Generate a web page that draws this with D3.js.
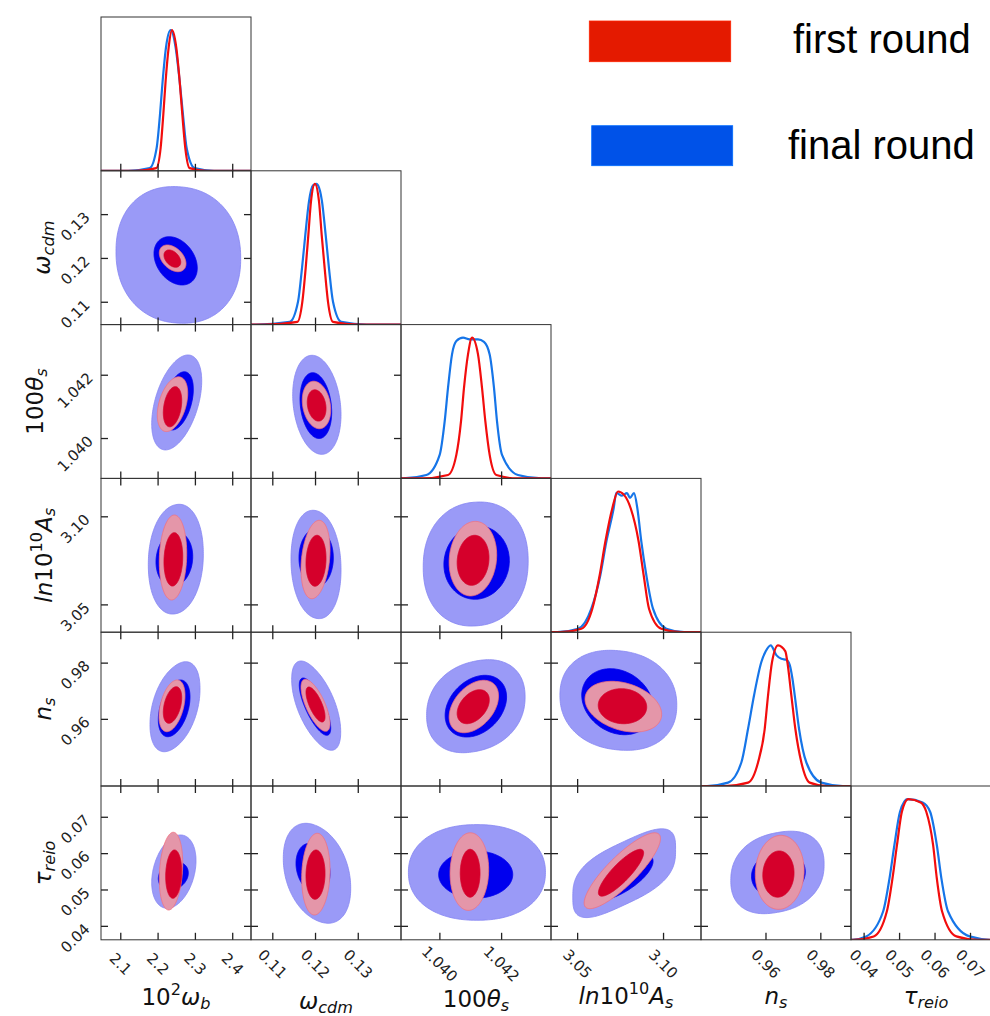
<!DOCTYPE html>
<html>
<head>
<meta charset="utf-8">
<script src="https://d3js.org/d3.v7.min.js"></script>
<style>
  body { margin: 0; background: white; }
  svg { display: block; }
</style>
</head>
<body>
<svg id="corner" width="990" height="1016"></svg>
<script>
// parameter ranges (same for x and y), ticks and labels
const domains = [[2.047, 2.449], [0.1049, 0.1400], [1.03874, 1.0436], [3.0345, 3.1218], [0.9363, 0.991], [0.0363, 0.0786]];
const tickValues = [[2.1, 2.2, 2.3, 2.4], [0.11, 0.12, 0.13], [1.040, 1.042], [3.05, 3.10], [0.96, 0.98], [0.04, 0.05, 0.06, 0.07]];
const tickLabels = [["2.1", "2.2", "2.3", "2.4"], ["0.11", "0.12", "0.13"], ["1.040", "1.042"], ["3.05", "3.10"], ["0.96", "0.98"], ["0.04", "0.05", "0.06", "0.07"]];
// label pieces: n normal, i italic, sub / sup
const axisLabels = [
  [["10", "n"], ["2", "sup"], ["ω", "i"], ["b", "sub"]],
  [["ω", "i"], ["cdm", "sub"]],
  [["100", "n"], ["θ", "i"], ["s", "sub"]],
  [["ln", "i"], ["10", "n"], ["10", "sup"], ["A", "i"], ["s", "sub"]],
  [["n", "i"], ["s", "sub"]],
  [["τ", "i"], ["reio", "sub"]]
];
const legendNames = ["first round", "final round"];

// 1D posteriors, [value, density / peak]
const first1D = [
  [[2.14, 0], [2.1952, 0.019], [2.2068, 0.162], [2.2140, 0.40], [2.2202, 0.638], [2.2283, 0.876], [2.2372, 1], [2.2488, 0.876], [2.2578, 0.638], [2.2649, 0.40], [2.2729, 0.162], [2.2846, 0.019], [2.33, 0]],
  [[0.108, 0], [0.11574, 0.019], [0.11691, 0.162], [0.11769, 0.40], [0.11832, 0.638], [0.11894, 0.876], [0.11985, 1], [0.12081, 0.876], [0.12144, 0.638], [0.12214, 0.40], [0.12292, 0.162], [0.12409, 0.019], [0.13, 0]],
  [[1.0394, 0], [1.040263, 0.024], [1.040533, 0.167], [1.040684, 0.405], [1.040781, 0.643], [1.040911, 0.881], [1.041041, 1], [1.041235, 0.881], [1.041365, 0.643], [1.041473, 0.405], [1.041613, 0.167], [1.041829, 0.024], [1.0425, 0]],
  [[3.04, 0], [3.052154, 0.024], [3.058556, 0.167], [3.062824, 0.405], [3.066122, 0.643], [3.070196, 0.881], [3.073494, 1], [3.076986, 0.976], [3.080866, 0.881], [3.085522, 0.643], [3.088432, 0.405], [3.091536, 0.167], [3.098714, 0.024], [3.11, 0]],
  [[0.945, 0], [0.953446, 0.024], [0.957094, 0.167], [0.959526, 0.405], [0.960742, 0.643], [0.962201, 0.881], [0.96439, 1], [0.967065, 0.957], [0.967795, 0.881], [0.969254, 0.643], [0.970713, 0.405], [0.972902, 0.167], [0.975942, 0.024], [0.982, 0]],
  [[0.037, 0], [0.0427, 0.024], [0.0464, 0.201], [0.048, 0.437], [0.04927, 0.674], [0.05065, 0.91], [0.05246, 1], [0.05596, 0.976], [0.05753, 0.91], [0.05945, 0.674], [0.0605, 0.437], [0.06199, 0.201], [0.06602, 0.024], [0.072, 0]]
];
const final1D = [
  [[2.12, 0], [2.1774, 0.019], [2.1961, 0.162], [2.2051, 0.40], [2.2122, 0.638], [2.2211, 0.876], [2.2336, 1], [2.2470, 0.876], [2.2578, 0.638], [2.2667, 0.40], [2.2765, 0.162], [2.2979, 0.019], [2.35, 0]],
  [[0.106, 0], [0.11395, 0.019], [0.1159, 0.162], [0.11683, 0.40], [0.11761, 0.638], [0.11847, 0.876], [0.11941, 0.99], [0.12019, 1], [0.12058, 0.99], [0.12151, 0.876], [0.12237, 0.638], [0.12315, 0.40], [0.12409, 0.162], [0.12604, 0.019], [0.132, 0]],
  [[1.0388, 0], [1.039561, 0.024], [1.039993, 0.167], [1.040155, 0.405], [1.040263, 0.643], [1.040393, 0.881], [1.040533, 0.976], [1.040749, 1], [1.040965, 0.988], [1.041235, 0.988], [1.041429, 0.971], [1.041613, 0.881], [1.041753, 0.643], [1.041851, 0.405], [1.042013, 0.167], [1.042531, 0.024], [1.0433, 0]],
  [[3.038, 0], [3.050214, 0.024], [3.057974, 0.167], [3.063212, 0.405], [3.066704, 0.643], [3.070972, 0.881], [3.072524, 0.99], [3.075822, 0.97], [3.078732, 0.988], [3.080478, 0.955], [3.082806, 0.988], [3.084746, 0.881], [3.087074, 0.643], [3.089984, 0.405], [3.093864, 0.167], [3.101624, 0.024], [3.112, 0]],
  [[0.9385, 0], [0.94615, 0.024], [0.95101, 0.167], [0.953446, 0.405], [0.955635, 0.643], [0.95831, 0.881], [0.959891, 0.957], [0.961715, 1], [0.963782, 0.93], [0.965606, 0.904], [0.96743, 0.897], [0.968646, 0.861], [0.969619, 0.766], [0.97047, 0.646], [0.972051, 0.407], [0.974726, 0.167], [0.980198, 0.024], [0.988, 0]],
  [[0.0365, 0], [0.04059, 0.024], [0.04535, 0.201], [0.04716, 0.437], [0.04854, 0.674], [0.05012, 0.91], [0.05223, 1], [0.05649, 0.976], [0.05861, 0.91], [0.0605, 0.674], [0.06179, 0.437], [0.06368, 0.201], [0.06972, 0.024], [0.076, 0]]
];

// 2D panels as [row, col]; contours as [xlo, xhi, ylo, yhi, correlation, squareness]
const pairs = [[1, 0], [2, 0], [3, 0], [4, 0], [5, 0], [2, 1], [3, 1], [4, 1], [5, 1], [3, 2], [4, 2], [5, 2], [4, 3], [5, 3], [5, 4]];
const finalOuter = [
  [2.0872, 2.4214, 0.1052, 0.1364, -0.05, 2.2],
  [2.1829, 2.3169, 1.03964, 1.04264, 0.45, 2],
  [2.1738, 2.3212, 3.0448, 3.1071, 0.1, 2.1],
  [2.1783, 2.3123, 0.94849, 0.98051, 0.4, 2.1],
  [2.1829, 2.3016, 0.04497, 0.06513, 0.3, 2],
  [0.11466, 0.12596, 1.0395, 1.04263, -0.2, 2],
  [0.11426, 0.12596, 3.0422, 3.1037, -0.1, 2.1],
  [0.11442, 0.12589, 0.949, 0.98076, -0.6, 2.1],
  [0.11246, 0.12823, 0.04085, 0.06834, -0.3, 2.1],
  [1.03946, 1.04286, 3.038, 3.1084, 0.05, 2.2],
  [1.03957, 1.04276, 0.94814, 0.98122, 0.2, 2.2],
  [1.03898, 1.04342, 0.04167, 0.06798, 0.0, 2.2],
  [3.0397, 3.1077, 0.94899, 0.98456, -0.1, 2.2],
  [3.0472, 3.1070, 0.04241, 0.06683, 0.6, 3],
  [0.94717, 0.98119, 0.04348, 0.06617, 0.2, 2.3]
];
const finalInner = [
  [2.189, 2.305, 0.11394, 0.12496, -0.3, 2],
  [2.214, 2.2944, 1.04027, 1.04211, 0.4, 2],
  [2.1944, 2.2928, 3.0603, 3.0915, 0.1, 2],
  [2.2006, 2.2855, 0.95383, 0.9740, 0.4, 2],
  [2.2006, 2.281, 0.05, 0.05778, 0.2, 2],
  [0.11637, 0.12378, 1.04, 1.04208, -0.2, 2],
  [0.11613, 0.12416, 3.0602, 3.0932, 0, 2],
  [0.1162, 0.12355, 0.95433, 0.97471, -0.75, 2],
  [0.11543, 0.12339, 0.04909, 0.06284, -0.2, 2],
  [1.04013, 1.04225, 3.0532, 3.0948, 0.05, 2],
  [1.04017, 1.04216, 0.95372, 0.97567, 0.3, 2],
  [1.03996, 1.04236, 0.04775, 0.06073, 0, 2],
  [3.0524, 3.094, 0.95454, 0.97802, -0.2, 2],
  [3.0571, 3.0939, 0.04711, 0.05982, 0.7, 2],
  [0.95472, 0.97434, 0.04802, 0.06073, 0.1, 2]
];
const firstOuter = [
  [2.2032, 2.2748, 0.11697, 0.12307, -0.4, 2],
  [2.1979, 2.2794, 1.04022, 1.04195, 0.4, 2],
  [2.2032, 2.2767, 3.0528, 3.1010, 0.1, 2],
  [2.2024, 2.2721, 0.95561, 0.9740, 0.4, 2],
  [2.2032, 2.266, 0.0445, 0.06587, 0.2, 2],
  [0.1169, 0.12355, 1.04031, 1.04181, -0.2, 2],
  [0.1166, 0.12339, 3.0535, 3.098, 0.25, 2],
  [0.1166, 0.12339, 0.95575, 0.97425, -0.7, 2],
  [0.11676, 0.12339, 0.04313, 0.06559, 0.1, 2],
  [1.0403, 1.04184, 3.0551, 3.0974, 0.1, 2],
  [1.0403, 1.0419, 0.95525, 0.97389, 0.4, 2],
  [1.04033, 1.04158, 0.04439, 0.06573, 0.05, 2],
  [3.0543, 3.0989, 0.95549, 0.97353, -0.3, 2],
  [3.0538, 3.0982, 0.04486, 0.06573, 0.85, 2],
  [0.9561, 0.9739, 0.04467, 0.06502, 0.05, 2]
];
const firstInner = [
  [2.2158, 2.2606, 0.11798, 0.12193, -0.4, 2],
  [2.214, 2.2633, 1.04037, 1.04164, 0.3, 2],
  [2.2158, 2.266, 3.0607, 3.091, 0.1, 2],
  [2.214, 2.2633, 0.9586, 0.97161, 0.4, 2],
  [2.2204, 2.2633, 0.04772, 0.061, 0.1, 2],
  [0.11807, 0.12245, 1.04055, 1.04154, -0.2, 2],
  [0.11777, 0.12245, 3.0606, 3.0895, 0.1, 2],
  [0.11777, 0.12222, 0.95906, 0.97151, -0.7, 2],
  [0.11777, 0.12222, 0.04744, 0.061, 0.05, 2],
  [1.04056, 1.04159, 3.0611, 3.0895, 0.1, 2],
  [1.04056, 1.0416, 0.95846, 0.97055, 0.4, 2],
  [1.04066, 1.0413, 0.04802, 0.06119, 0, 2],
  [3.062, 3.0902, 0.95845, 0.9709, -0.05, 2],
  [3.0621, 3.0884, 0.0483, 0.06119, 0.85, 2],
  [0.95884, 0.97022, 0.04802, 0.06073, 0.05, 2]
];

const svg = d3.select("#corner");
const gridLeft = 101, gridTop = 17, pw = 150, ph = 153.8, n = 6;
const tickLen = 7;

const xScale = j => d3.scaleLinear().domain(domains[j]).range([gridLeft + j * pw, gridLeft + (j + 1) * pw]);
const yScale = i => d3.scaleLinear().domain(domains[i]).range([gridTop + (i + 1) * ph, gridTop + i * ph]);
const dScale = i => d3.scaleLinear().domain([0, 1.093]).range([gridTop + (i + 1) * ph, gridTop + i * ph]);

// clip paths
const defs = svg.append("defs");
for (let i = 0; i < n; i++) {
  for (let j = 0; j <= i; j++) {
    defs.append("clipPath").attr("id", `clip${i}${j}`)
      .append("rect")
      .attr("x", gridLeft + j * pw).attr("y", gridTop + i * ph)
      .attr("width", pw).attr("height", ph);
  }
}

// contour outline in data units from box + correlation
function contourPoints(c) {
  const [xlo, xhi, ylo, yhi, r, sq] = c;
  const cx = (xlo + xhi) / 2, cy = (ylo + yhi) / 2;
  const ax = (xhi - xlo) / 2, ay = (yhi - ylo) / 2;
  const s = Math.sqrt(1 - r * r);
  const raw = d3.range(0, 2 * Math.PI, Math.PI / 90).map(t => {
    const ct = Math.cos(t), st = Math.sin(t);
    const u = Math.sign(ct) * Math.pow(Math.abs(ct), 2 / sq);
    const v = Math.sign(st) * Math.pow(Math.abs(st), 2 / sq);
    return [u, r * u + s * v];
  });
  const m = d3.max(raw, p => Math.abs(p[1]));
  return raw.map(p => [cx + ax * p[0], cy + ay * p[1] / m]);
}

const styles = [
  { data: finalOuter, fill: "#9a9af7", stroke: "#8585f2" },
  { data: finalInner, fill: "#0000ee", stroke: "#0000ee" },
  { data: firstOuter, fill: "#e496a9", stroke: "#f2707e" },
  { data: firstInner, fill: "#d5002b", stroke: "#d5002b" }
];

pairs.forEach(([i, j], k) => {
  const x = xScale(j), y = yScale(i);
  const line = d3.line().x(d => x(d[0])).y(d => y(d[1])).curve(d3.curveLinearClosed);
  const g = svg.append("g").attr("clip-path", `url(#clip${i}${j})`);
  styles.forEach(st => {
    g.append("path")
      .attr("d", line(contourPoints(st.data[k])))
      .attr("fill", st.fill)
      .attr("stroke", st.stroke)
      .attr("stroke-width", 0.8);
  });
});

// diagonal 1D curves
for (let i = 0; i < n; i++) {
  const x = xScale(i), y = dScale(i);
  const line = d3.line().x(d => x(d[0])).y(d => y(d[1])).curve(d3.curveMonotoneX);
  const g = svg.append("g").attr("clip-path", `url(#clip${i}${i})`);
  const ends = pts => [[domains[i][0], 0]].concat(pts, [[domains[i][1], 0]]);
  g.append("path").attr("d", line(ends(final1D[i])))
    .attr("fill", "none").attr("stroke", "#1675e8").attr("stroke-width", 2.2);
  g.append("path").attr("d", line(ends(first1D[i])))
    .attr("fill", "none").attr("stroke", "#f20d0d").attr("stroke-width", 2.2);
}

// frames and ticks
const frames = svg.append("g");
for (let i = 0; i < n; i++) {
  for (let j = 0; j <= i; j++) {
    const x0 = gridLeft + j * pw, y0 = gridTop + i * ph;
    frames.append("rect")
      .attr("x", x0).attr("y", y0).attr("width", pw).attr("height", ph)
      .attr("fill", "none").attr("stroke", "#333").attr("stroke-width", 1);
    const x = xScale(j);
    tickValues[j].forEach(v => {
      frames.append("line")
        .attr("x1", x(v)).attr("x2", x(v))
        .attr("y1", y0 + ph).attr("y2", y0 + ph - tickLen)
        .attr("stroke", "#222").attr("stroke-width", 1.3);
      if (i !== j) {
        frames.append("line")
          .attr("x1", x(v)).attr("x2", x(v))
          .attr("y1", y0).attr("y2", y0 + tickLen)
          .attr("stroke", "#222").attr("stroke-width", 1.3);
      }
    });
    if (i !== j) {
      const y = yScale(i);
      tickValues[i].forEach(v => {
        frames.append("line")
          .attr("x1", x0).attr("x2", x0 + tickLen)
          .attr("y1", y(v)).attr("y2", y(v))
          .attr("stroke", "#222").attr("stroke-width", 1.3);
        frames.append("line")
          .attr("x1", x0 + pw).attr("x2", x0 + pw - tickLen)
          .attr("y1", y(v)).attr("y2", y(v))
          .attr("stroke", "#222").attr("stroke-width", 1.3);
      });
    }
  }
}

// tick labels, rotated 45 degrees, placed by the centre of their box
const tickFont = 15, capH = 0.73 * tickFont;
const labelsG = svg.append("g")
  .style("font-family", "'DejaVu Sans', sans-serif")
  .style("font-size", tickFont + "px")
  .attr("fill", "#222");
const gridBottom = gridTop + n * ph;
for (let j = 0; j < n; j++) {
  const x = xScale(j);
  tickValues[j].forEach((v, k) => {
    const t = labelsG.append("text").text(tickLabels[j][k]);
    const w = t.node().getComputedTextLength();
    const px = x(v) - 0.354 * (w + capH);
    const py = gridBottom + 24 - 0.354 * (w - capH);
    t.attr("transform", `translate(${px},${py}) rotate(45)`);
  });
}
for (let i = 1; i < n; i++) {
  const y = yScale(i);
  tickValues[i].forEach((v, k) => {
    const t = labelsG.append("text").text(tickLabels[i][k]).attr("text-anchor", "end");
    const w = t.node().getComputedTextLength();
    const px = 75 + 0.354 * (w + capH);
    const py = y(v) - 4 + 0.707 * capH;
    t.attr("transform", `translate(${px},${py}) rotate(-45)`);
  });
}

// axis labels with sub/superscripts
const labelFont = 23;
function mathLabel(g, pieces) {
  const t = g.append("text");
  let shift = 0;
  pieces.forEach(([s, kind]) => {
    let target = 0, size = null, italic = false;
    if (kind === "i") italic = true;
    if (kind === "sub") { target = 0.16; size = "70%"; italic = true; }
    if (kind === "sup") { target = -0.42; size = "70%"; }
    const sp = t.append("tspan").text(s)
      .attr("dy", ((target - shift) * labelFont).toFixed(2));
    shift = target;
    if (size) sp.style("font-size", size);
    if (italic) sp.style("font-style", "italic");
  });
  return t;
}
const axisG = svg.append("g")
  .style("font-family", "'DejaVu Sans', sans-serif")
  .style("font-size", labelFont + "px")
  .attr("fill", "#111");
const xLabelBase = [1005, 1009, 1007, 1004, 1004, 1004];
for (let j = 0; j < n; j++) {
  mathLabel(axisG, axisLabels[j])
    .attr("text-anchor", "middle")
    .attr("x", gridLeft + (j + 0.5) * pw)
    .attr("y", xLabelBase[j]);
}
const yLabelBase = [0, 50, 43, 51.5, 51, 51];
for (let i = 1; i < n; i++) {
  const cy = gridTop + (i + 0.5) * ph;
  mathLabel(axisG, axisLabels[i])
    .attr("text-anchor", "middle")
    .attr("transform", `translate(${yLabelBase[i]},${cy}) rotate(-90)`);
}

// legend
const legendColors = ["#e41a00", "#0052e8"];
const legendBoxes = [[589.3, 21, 141.4, 40.7], [591.7, 125.7, 141, 40]];
const legendText = [[793, 52.7], [788, 159]];
legendNames.forEach((name, k) => {
  const [bx, by, bw, bh] = legendBoxes[k];
  svg.append("rect")
    .attr("x", bx).attr("y", by).attr("width", bw).attr("height", bh)
    .attr("fill", legendColors[k])
    .attr("stroke", d3.color(legendColors[k]).brighter(0.8))
    .attr("stroke-width", 0.8);
  svg.append("text")
    .attr("x", legendText[k][0]).attr("y", legendText[k][1])
    .style("font-family", "'Liberation Sans', Arial, sans-serif")
    .style("font-size", "40px")
    .attr("fill", "#000")
    .text(name);
});
</script>
</body>
</html>
